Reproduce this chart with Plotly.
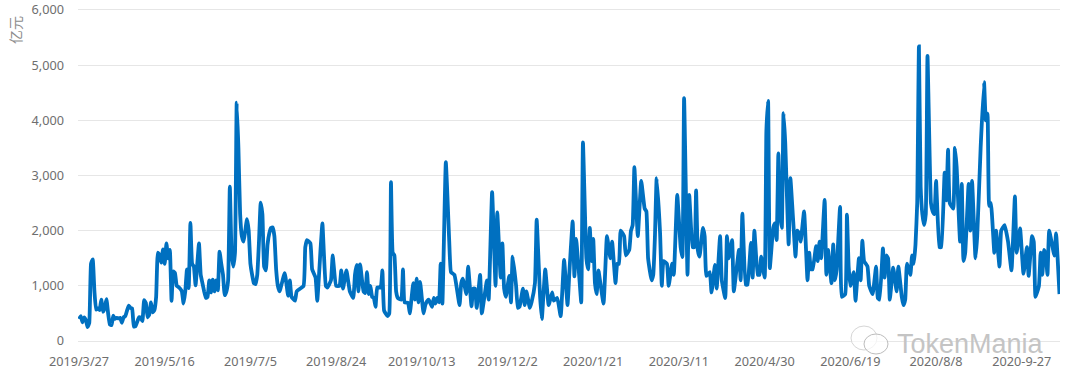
import pandas as pd
import plotly.graph_objects as go

START = "2019-03-27"
tick_labels = ["2019/3/27","2019/5/16","2019/7/5","2019/8/24","2019/10/13","2019/12/2",
               "2020/1/21","2020/3/11","2020/4/30","2020/6/19","2020/8/8","2020-9-27"]
tick_dates = ["2019-03-27","2019-05-16","2019-07-05","2019-08-24","2019-10-13","2019-12-02",
              "2020-01-21","2020-03-11","2020-04-30","2020-06-19","2020-08-08","2020-09-27"]
y_ticks = [0,1000,2000,3000,4000,5000,6000]

# (days since start, volume in 亿元)
seg_a = [(0,400),(1,450),(2,340),(3,430),(4,380),(5,250),(6,330),(7,1400),(8,1480),(9,900),(10,570),(11,590),(12,560),(13,750),(14,530),(15,600),(16,760),(17,500),(18,300),(19,290),(20,460),(21,400),(22,420),(23,410),(24,420),(25,330),(26,430),(27,450),(28,550),(29,640),(30,600),(31,590),(32,260),(33,270),(34,350),(35,430),(36,420),(37,360),(38,740),(39,690),(40,430),(41,480),(42,700),(43,520),(44,560),(45,800),(46,1600),(47,1560),(48,1420),(49,1660),(50,1400),(51,1770),(52,1500),(53,1650),(54,730),(55,1260),(56,1230),(57,1000),(58,980),(59,950),(60,900),(61,680),(62,900),(63,1300),(64,960),(65,2140),(66,1400),(67,1350),(68,1010),(69,1400),(70,1770),(71,1200),(72,1050),(73,900),(74,780),(75,800),(76,1100),(77,880),(78,1110),(79,900),(80,1100),(81,920),(82,1620),(83,1400),(84,1200),(85,830),(86,900),(87,1100),(88,2800),(89,1600),(90,1350),(91,1600),(92,4320),(93,3500),(94,2300),(95,1900),(96,1800),(97,2000),(98,2210),(99,2000),(100,1400),(101,1200),(102,1050),(103,1030),(104,1200),(105,1800),(106,2510),(107,2300),(108,1350),(109,1280),(110,1750),(111,1950),(112,2050),(113,2060),(114,1900),(115,1300),(116,1000),(117,900)]
seg_b = [(120,1230),(122,820),(123,1100),(124,800),(126,730),(127,900),(131,1000),(132,1700),(133,1830),(135,1770),(136,1300),(138,1150),(139,730),(141,1700),(142,2130),(144,1000),(145,970),(147,1100),(148,1550),(150,1000),(152,1000),(153,1280),(154,950),(156,1280),(158,900),(160,780),(161,1200),(162,1380),(163,900),(164,1390),(166,900),(167,870),(168,1250),(169,850),(170,1000),(171,800),(172,780),(173,620),(174,970),(176,970),(177,1280),(178,550),(180,450),(181,500),(182,2880),(183,1600),(184,1550),(185,900),(186,780),(188,750),(189,1300),(190,700),(192,690),(193,500),(195,1050),(196,750),(197,1130),(198,700),(199,1070),(201,500),(202,650),(203,720),(204,750),(206,620),(207,780),(208,680),(209,780),(210,700),(211,1400),(212,680),(214,3240),(216,1800),(217,1250),(219,1200),(222,650),(223,1050),(224,1130),(226,850),(227,1350),(229,630),(230,950),(231,950),(232,600),(234,1200),(235,500),(238,1100),(239,750),(241,2700),(243,1000),(244,2330),(246,1150),(247,1770),(248,950),(249,800),(251,1180),(252,700),(253,1530),(255,1000),(256,600),(257,620),(259,950),(260,650),(261,900),(263,600),(264,700),(266,1050),(267,2200),(269,800),(270,400),(272,1300),(274,650)]
seg_c = [(276,880),(277,730),(279,780),(281,450),(283,1470),(285,650),(286,1200),(288,2170),(289,1170),(290,1850),(292,1100),(293,700),(294,3600),(296,1500),(297,1300),(298,2050),(299,1450),(300,1850),(301,1050),(302,850),(303,1280),(306,680),(308,1900),(310,1500),(311,1800),(313,1050),(314,1400),(315,1400),(316,2000),(318,1900),(319,1550),(321,1650),(322,2000),(323,2100),(324,3150),(326,1900),(328,2900),(330,2400),(331,2350),(332,1500),(334,1100),(335,1200),(336,1900),(337,2950),(339,1950),(340,1000),(341,1450),(343,1400),(344,1000),(346,1400),(347,1200),(349,2650),(351,1700),(352,1520),(353,4400),(355,1200),(356,2650),(358,1700),(359,1700),(360,2730),(361,1650),(362,1530),(364,2050),(365,1900),(366,1180),(368,1250),(369,880),(371,1380),(372,950),(374,1900),(375,1100),(377,780),(378,1900),(379,1500),(381,1830),(382,900),(385,1650),(386,1100),(387,2310),(389,1020),(390,1020),(392,1780),(393,1150),(394,2000),(396,1200),(397,1200),(398,1530),(400,1150),(401,3800),(402,4350),(403,1320),(405,2050),(406,2130),(407,1830),(408,3400),(409,2300),(410,2050),(411,4130),(412,3600),(414,1750),(415,2950),(417,2000),(418,1530),(419,2000),(420,1950),(421,1800),(423,2350),(425,1100),(426,1600),(427,1300),(428,1300),(430,1720)]
seg_d = [(431,1450),(432,1800),(433,1500),(435,2560),(436,1200),(437,1650),(439,1050),(440,1750),(441,1100),(442,1300),(444,2430),(445,800),(447,850),(448,2290),(449,1350),(450,1000),(452,1250),(453,730),(455,1500),(456,1100),(457,1820),(458,1450),(460,1350),(461,1000),(463,850),(465,1350),(466,780),(467,750),(469,1680),(470,1150),(471,1550),(472,1500),(473,750),(475,1330),(477,900),(478,1350),(480,800),(481,650),(482,750),(483,1400),(485,1200),(486,1550),(487,1400),(488,1750),(489,2500),(490,5340),(491,2800),(492,2300),(493,2100),(494,2300),(495,5170),(497,2500),(498,2350),(499,2300),(500,2900),(502,1700),(503,1700),(505,3050),(506,2550),(507,3470),(508,2500),(510,2400),(511,3500),(512,3150),(514,1800),(515,2850),(516,1450),(517,1600),(519,2850),(520,2000),(521,2900),(523,1500),(524,1900),(526,3500),(528,4690),(529,4000),(530,4120),(531,2450),(532,2500),(534,1600),(535,2000),(537,1350),(538,2000),(540,2100),(542,1800),(544,1280),(546,2620),(547,1600),(549,2040),(551,1220),(553,1700),(554,1180),(556,1900),(557,1800),(558,800),(560,1000),(561,1600),(562,1200),(563,1650),(564,1550),(565,1200),(566,2000),(569,1550),(570,1950),(572,850)]

pairs = seg_a + seg_b + seg_c + seg_d
days = [p[0] for p in pairs]
vals = [p[1] for p in pairs]
dates = pd.Timestamp(START) + pd.to_timedelta(days, unit="D")

FONT = "Noto Sans, sans-serif"
fig = go.Figure(go.Scatter(
    x=dates, y=vals, mode="lines",
    line=dict(color="#0070c0", width=3.8, shape="spline", smoothing=0.35),
    hoverinfo="skip", showlegend=False,
))

t0 = pd.Timestamp(START)
PL, PR, PT, PB = 78, 1060, 8, 343
px = lambda x: (x - PL) / (PR - PL)
py = lambda y: (PB - y) / (PB - PT)
fig.update_layout(
    width=1080, height=388, autosize=False,
    margin=dict(l=PL, r=1080-PR, t=PT, b=388-PB),
    paper_bgcolor="white", plot_bgcolor="white",
    font=dict(family=FONT, color="#666666", size=12),
    xaxis=dict(
        type="date", automargin=False,
        range=[t0 - pd.Timedelta(hours=14), t0 + pd.Timedelta(days=572.3)],
        tickmode="array", tickvals=tick_dates, ticktext=tick_labels,
        showgrid=False, zeroline=False, ticks="", showline=False,
        tickfont=dict(size=12.7, color="#6e6e6e"), tickangle=0,
        ticklabelstandoff=9,
    ),
    yaxis=dict(
        automargin=False,
        range=[-36, 6036], tickmode="array", tickvals=y_ticks,
        tickformat=",d", showgrid=True, gridcolor="#e6e6e6", gridwidth=1.4,
        zeroline=False, showline=False, ticks="",
        tickfont=dict(size=12.7, color="#6e6e6e"),
        ticklabelstandoff=13,
    ),
    annotations=[
        dict(text="亿元", xref="paper", yref="paper", x=px(15), y=py(30),
             xanchor="center", yanchor="middle", showarrow=False, textangle=-90,
             font=dict(size=14, color="#8c8c8c", family="Noto Sans CJK SC")),
        dict(text="TokenMania", xref="paper", yref="paper", x=px(1046), y=py(344),
             xanchor="right", yanchor="middle", showarrow=False,
             font=dict(size=27, color="#c4c4c4", family="Liberation Sans")),
    ],
    shapes=[
        dict(type="circle", xref="paper", yref="paper", layer="above",
             x0=px(851), x1=px(877), y0=py(350), y1=py(326),
             line=dict(color="#d6d6d6", width=1), fillcolor="rgba(255,255,255,0.6)"),
        dict(type="circle", xref="paper", yref="paper", layer="above",
             x0=px(864), x1=px(888), y0=py(354), y1=py(334),
             line=dict(color="#bdbdbd", width=1), fillcolor="rgba(255,255,255,0.7)"),
    ],
)
fig.write_html("out.html", post_script="document.body.style.margin='0';",
               config=dict(displayModeBar=False))
